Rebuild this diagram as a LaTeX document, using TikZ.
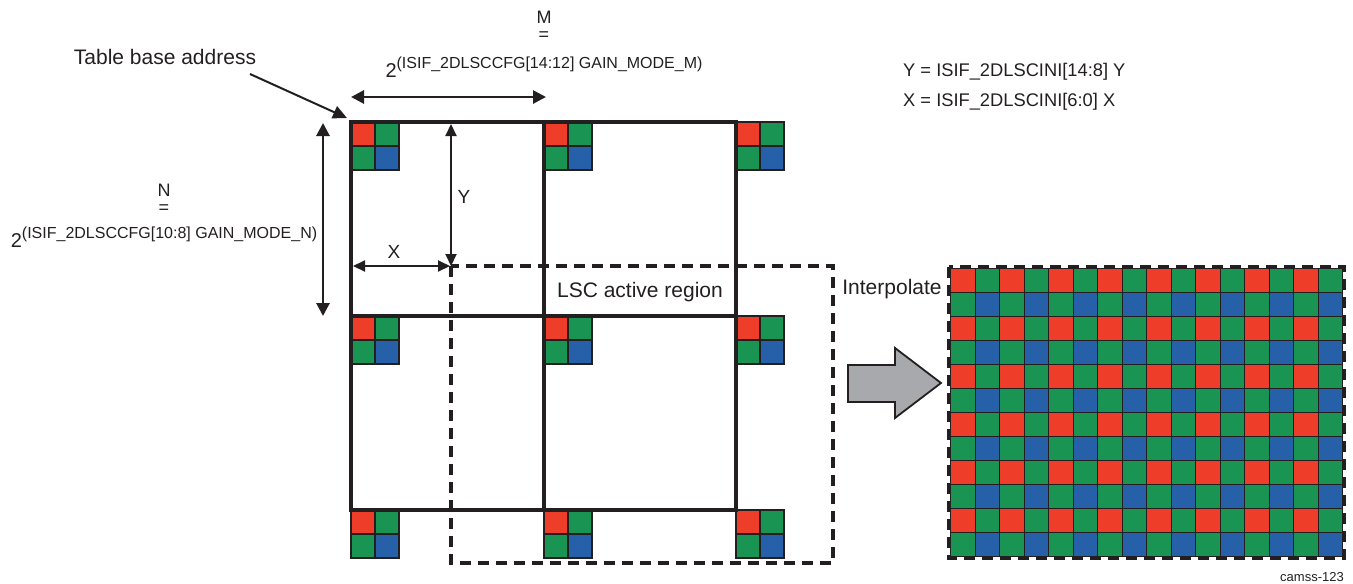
\documentclass[tikz,border=0pt]{standalone}
\usepackage{fontspec}
\setmainfont{Liberation Sans}
\usetikzlibrary{arrows.meta}
\definecolor{ink}{RGB}{35,31,32}
\definecolor{bred}{RGB}{238,62,42}
\definecolor{bgreen}{RGB}{26,148,82}
\definecolor{bblue}{RGB}{38,96,168}
\definecolor{agray}{RGB}{167,169,172}
\newcommand\bayertile[4]{%
  \begin{scope}[shift={(#1,#2)}]
    \filldraw[cellR] (0,0) rectangle (#3,#4);
    \filldraw[cellG] (#3,0) rectangle ({2*#3},#4);
    \filldraw[cellG] (0,#4) rectangle (#3,{2*#4});
    \filldraw[cellB] (#3,#4) rectangle ({2*#3},{2*#4});
  \end{scope}}
\newcommand\powexp[1]{{\fontsize{20}{24}\selectfont 2}\raisebox{9pt}{\fontsize{16}{19}\selectfont #1}}
\begin{document}
\begin{tikzpicture}[x=1pt,y=-1pt,
  cellR/.style={fill=bred,draw=ink,line width=1.2pt},
  cellG/.style={fill=bgreen,draw=ink,line width=1.2pt},
  cellB/.style={fill=bblue,draw=ink,line width=1.2pt},
  gridline/.style={draw=ink,line width=3.6pt},
  dashline/.style={draw=ink,line width=3.4pt,dash pattern=on 11pt off 7pt},
  dimarrow/.style={draw=ink,line width=2.8pt,{Triangle[length=13pt,width=13pt]}-{Triangle[length=13pt,width=13pt]}},
  thinarrow/.style={draw=ink,line width=2pt,{Triangle[length=12pt,width=11pt]}-{Triangle[length=12pt,width=11pt]}},
  lbl/.style={inner sep=0pt,text=ink,font=\fontsize{21}{24}\selectfont},
  small/.style={inner sep=0pt,text=ink,font=\fontsize{18}{21}\selectfont},
  mid/.style={inner sep=0pt,text=ink,font=\fontsize{18.3}{22}\selectfont},
]
\useasboundingbox (0,0) rectangle (1353,584);

% Bayer blocks of the gain table
\foreach \bx in {351,544,736}{
  \foreach \by in {122,316,510}{
    \bayertile{\bx}{\by}{24}{24}
  }}

% Table grid
\draw[gridline] (351,122) rectangle (736,510);
\draw[gridline] (544,122) -- (544,510);
\draw[gridline] (351,316) -- (736,316);

% LSC active region
\draw[dashline] (451,266) rectangle (833,563);
\node[lbl] (lsc) at (640,292) {LSC active region};

% M dimension
\node[small] (mlab) at (544,17) {M};
\node[small] (meq) at (544,36) {=};
\node[lbl,anchor=base] (mexp) at (544,77) {\powexp{(ISIF\_2DLSCCFG[14:12] GAIN\_MODE\_M)}};
\coordinate (m1) at (351,97);
\coordinate (m2) at (546,97);
\draw[dimarrow] (m1) -- (m2);

% N dimension
\node[small] (nlab) at (164,190) {N};
\node[small] (neq) at (164,209) {=};
\node[lbl,anchor=base] (nexp) at (164,247) {\powexp{(ISIF\_2DLSCCFG[10:8] GAIN\_MODE\_N)}};
\coordinate (n1) at (323,123);
\coordinate (n2) at (323,316);
\draw[dimarrow] (n1) -- (n2);

% Table base address
\node[lbl] (tba) at (165,57) {Table base address};
\coordinate (t1) at (250,74);
\coordinate (t2) at (347,118);
\draw[draw=ink,line width=2pt,-{Triangle[length=14pt,width=13pt]}] (t1) -- (t2);

% X and Y offsets
\coordinate (x1) at (353,266);
\coordinate (x2) at (450,266);
\draw[thinarrow] (x1) -- (x2);
\node[lbl,font=\fontsize{19}{22}\selectfont] (xlab) at (394,252) {X};
\coordinate (y1) at (451,124);
\coordinate (y2) at (451,266);
\draw[thinarrow] (y1) -- (y2);
\node[lbl,font=\fontsize{19}{22}\selectfont] (ylab) at (464,197) {Y};

% Register definitions
\node[mid,anchor=west] (ydef) at (903,72) {Y = ISIF\_2DLSCINI[14:8] Y};
\node[mid,anchor=west] (xdef) at (903,102) {X = ISIF\_2DLSCINI[6:0] X};

% Interpolate
\node[lbl] (interp) at (892,289) {Interpolate};
\draw[fill=agray,draw=ink,line width=1.8pt] (848,365) -- (895,365) -- (895,348) -- (941,383) -- (895,418) -- (895,402) -- (848,402) -- cycle;

% Interpolated Bayer image
\foreach \i in {0,...,7}{
  \foreach \j in {0,...,5}{
    \pgfmathsetmacro\tx{950.7+49*\i}
    \pgfmathsetmacro\ty{268.3+48*\j}
    \bayertile{\tx}{\ty}{24.5}{24}
  }}
\draw[dashline] (949,267) rectangle (1344,558);

\node[inner sep=0pt,text=ink,font=\fontsize{13}{15}\selectfont,anchor=east] (tag) at (1344,577) {camss-123};
\end{tikzpicture}
\end{document}
